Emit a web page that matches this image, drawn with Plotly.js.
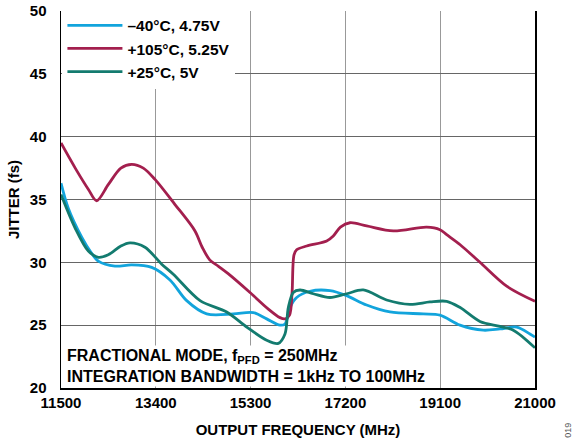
<!DOCTYPE html>
<html>
<head>
<meta charset="utf-8">
<script src="https://cdn.plot.ly/plotly-3.0.1.min.js"></script>
<style>html,body{margin:0;padding:0;background:#fff;}#chart{width:585px;height:444px;}</style>
</head>
<body>
<div id="chart"></div>
<script>
// Series names
const seriesNames = ['\u201340\u00B0C, 4.75V', '+105\u00B0C, 5.25V', '+25\u00B0C, 5V'];

// -40°C, 4.75V
const coldFreq = [11500, 11646, 11915, 12100, 12248, 12582, 12917, 13317, 13684, 14019, 14420, 14953, 15353, 15622, 15889, 15989, 16050, 16090, 16223, 16490, 16891, 17225, 17625, 18093, 18761, 19095, 19496, 19963, 20298, 20632, 20899, 21000];
const coldJitter = [36.3, 34.3, 32.0, 30.8, 30.1, 29.7, 29.8, 29.6, 28.6, 26.95, 25.9, 25.9, 26.0, 25.5, 25.0, 25.1, 25.8, 26.4, 27.2, 27.7, 27.75, 27.35, 26.6, 26.05, 25.9, 25.8, 25.0, 24.6, 24.7, 24.85, 24.3, 24.05];

// +105°C, 5.25V
const hotFreq = [11500, 11800, 12050, 12215, 12450, 12700, 12917, 13150, 13384, 13785, 14185, 14330, 14480, 14650, 14850, 15288, 15650, 15889, 15990, 16080, 16130, 16170, 16223, 16424, 16825, 16957, 17100, 17291, 17625, 18160, 18829, 19095, 19230, 19500, 19897, 20432, 21000];
const hotJitter = [39.5, 37.4, 35.8, 34.9, 36.2, 37.5, 37.8, 37.5, 36.6, 34.6, 32.5, 31.2, 30.2, 29.7, 29.1, 27.6, 26.3, 25.6, 25.5, 25.8, 27.5, 30.6, 31.0, 31.3, 31.7, 32.1, 32.8, 33.15, 32.9, 32.5, 32.8, 32.6, 32.2, 31.4, 30.0, 28.1, 26.9];

// +25°C, 5V
const roomFreq = [11500, 11781, 12048, 12248, 12448, 12700, 12883, 13183, 13518, 13751, 14287, 14821, 15222, 15622, 15855, 15989, 16056, 16156, 16290, 16557, 16891, 17225, 17558, 18026, 18494, 18894, 19230, 19500, 19897, 20298, 20565, 21000];
const roomJitter = [35.4, 32.75, 30.9, 30.4, 30.6, 31.3, 31.55, 31.2, 29.85, 29.05, 26.95, 26.05, 24.85, 23.8, 23.55, 24.3, 26.4, 27.6, 27.8, 27.5, 27.2, 27.5, 27.8, 27.0, 26.65, 26.85, 26.9, 26.4, 25.3, 24.9, 24.6, 23.2];

// Axis ticks
const xTicks = [11500, 13400, 15300, 17200, 19100, 21000];
const yTicks = [20, 25, 30, 35, 40, 45, 50];

const colors = ['#12A4DC', '#A31F4E', '#137B6F'];
const fontFam = 'Arial, "Liberation Sans", sans-serif';

function mk(x, y, name, color) {
  return {
    x: x, y: y, name: name, type: 'scatter', mode: 'lines',
    line: {color: color, width: 2.8, shape: 'spline', smoothing: 0.9}
  };
}

const data = [
  mk(coldFreq, coldJitter, seriesNames[0], colors[0]),
  mk(hotFreq, hotJitter, seriesNames[1], colors[1]),
  mk(roomFreq, roomJitter, seriesNames[2], colors[2])
];

const bold = (size) => ({family: fontFam, size: size, weight: 'bold', color: '#000'});

const layout = {
  width: 585, height: 444,
  margin: {l: 61, r: 50, t: 9, b: 56},
  paper_bgcolor: '#fff', plot_bgcolor: '#fff',
  font: bold(15),
  showlegend: true,
  xaxis: {
    range: [11500, 21000], tickvals: xTicks, ticktext: xTicks.map(String),
    showgrid: true, gridcolor: '#999', gridwidth: 1,
    showline: true, linecolor: '#000', linewidth: 1.5, mirror: false,
    ticks: '', zeroline: false, ticklabelstandoff: 0,
    tickfont: bold(15),
    title: {text: 'OUTPUT FREQUENCY (MHz)', font: bold(15), standoff: 15}
  },
  yaxis: {
    range: [20, 50], tickvals: yTicks, ticktext: yTicks.map(String),
    showgrid: true, gridcolor: '#666', gridwidth: 1,
    showline: true, linecolor: '#000', linewidth: 1.5, mirror: true,
    ticks: '', zeroline: false, ticklabelstandoff: 10,
    tickfont: bold(15),
    title: {text: 'JITTER (fs)', font: bold(15), standoff: 6}
  },
  legend: {
    x: 0.003, y: 1.006, xanchor: 'left', yanchor: 'top',
    bgcolor: '#fff', borderwidth: 0,
    font: bold(15.5),
    itemwidth: 55, tracegroupgap: 0
  },
  annotations: [
    {
      xref: 'paper', yref: 'paper', x: 0.003, y: 0.003, xanchor: 'left', yanchor: 'bottom',
      xshift: 3, align: 'left', showarrow: false, bgcolor: '#fff', borderpad: 1,
      text: 'FRACTIONAL MODE, f<sub>PFD</sub> = 250MHz<br>INTEGRATION BANDWIDTH = 1kHz TO 100MHz',
      font: bold(16)
    },
    {
      xref: 'paper', yref: 'paper', x: 1.0696, y: -0.111, xanchor: 'center', yanchor: 'middle',
      showarrow: false, textangle: -90, text: '019',
      font: {family: fontFam, size: 9, weight: 'normal', color: '#555'}
    }
  ]
};

Plotly.newPlot('chart', data, layout, {displayModeBar: false, staticPlot: true});
</script>
</body>
</html>
